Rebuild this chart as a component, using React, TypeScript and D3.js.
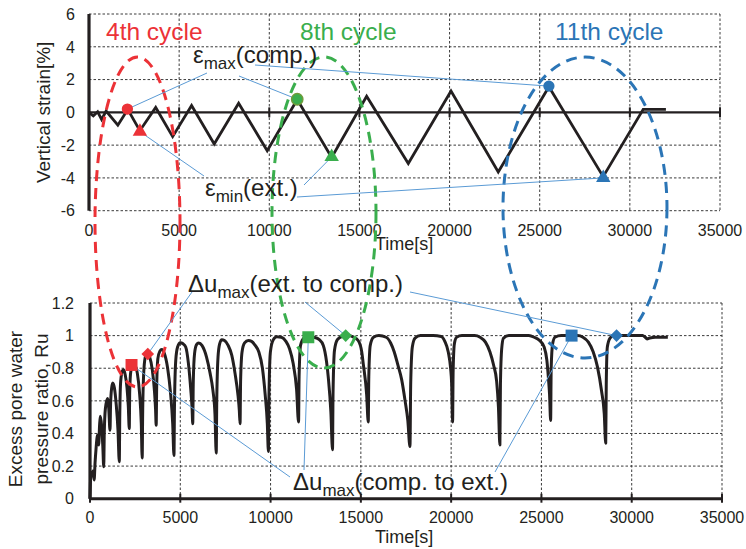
import React from 'react';
import * as d3 from 'd3';

// ---------- data ----------
const strainTime = [0, 240, 480, 700, 950, 1600, 2150, 2820, 3700, 4640, 5690, 6945, 8300, 9885, 11550, 13460, 15400, 17710, 20080, 22700, 25510, 28520, 30740, 32000];
const strainValue = [0, -0.22, 0.03, -0.43, 0.08, -0.78, 0.18, -1.12, 0.3, -1.48, 0.42, -1.93, 0.56, -2.34, 0.78, -2.75, 0.98, -3.12, 1.3, -3.64, 1.56, -3.92, 0.18, 0.18];

const ruPoints: [number, number][] = [
  [0, 0], [30, 0.12], [60, 0.16], [110, 0.14], [160, 0.17], [230, 0.115], [280, 0.22], [330, 0.3], [420, 0.39], [480, 0.33],
  [530, 0.45], [570, 0.505], [640, 0.45], [710, 0.32], [760, 0.196], [790, 0.4], [850, 0.55], [970, 0.615], [1040, 0.55], [1107, 0.42],
  [1140, 0.58], [1200, 0.68], [1260, 0.71], [1350, 0.68], [1450, 0.58], [1550, 0.42], [1622, 0.227],
  [1650, 0.52], [1700, 0.72], [1800, 0.785], [1870, 0.79], [1950, 0.76], [2050, 0.68], [2120, 0.57], [2175, 0.43],
  [2200, 0.66], [2260, 0.78], [2400, 0.82], [2500, 0.815], [2620, 0.77], [2750, 0.64], [2840, 0.46], [2890, 0.25],
  [2920, 0.55], [2990, 0.8], [3080, 0.875], [3180, 0.89], [3300, 0.87], [3450, 0.79], [3570, 0.66], [3630, 0.55], [3665, 0.45],
  [3695, 0.7], [3760, 0.86], [3870, 0.905], [3970, 0.915], [4120, 0.89], [4300, 0.8], [4450, 0.66], [4580, 0.46], [4650, 0.265],
  [4680, 0.58], [4750, 0.85], [4850, 0.93], [5000, 0.957], [5150, 0.95], [5300, 0.93], [5450, 0.83], [5580, 0.67], [5650, 0.56], [5690, 0.46],
  [5720, 0.72], [5790, 0.89], [5900, 0.945], [6020, 0.955], [6200, 0.94], [6450, 0.87], [6650, 0.77], [6800, 0.67], [6920, 0.52], [6990, 0.28],
  [7020, 0.6], [7090, 0.87], [7180, 0.95], [7300, 0.975], [7450, 0.97], [7650, 0.94], [7850, 0.88], [8030, 0.77], [8200, 0.63], [8270, 0.54], [8310, 0.46],
  [8340, 0.72], [8420, 0.9], [8560, 0.955], [8770, 0.97], [8950, 0.965], [9150, 0.94], [9350, 0.9], [9550, 0.8], [9700, 0.64], [9820, 0.46], [9880, 0.29],
  [9910, 0.62], [9990, 0.9], [10150, 0.975], [10350, 0.993], [10600, 0.99], [10850, 0.965], [11050, 0.92], [11250, 0.83], [11440, 0.67], [11550, 0.47],
  [11580, 0.75], [11660, 0.94], [11850, 0.985], [12100, 0.995], [12400, 0.99], [12700, 0.975], [12920, 0.94], [13100, 0.84], [13200, 0.74], [13340, 0.53], [13430, 0.3],
  [13460, 0.65], [13540, 0.91], [13700, 0.975], [13950, 0.995], [14300, 1.0], [14600, 0.99], [14850, 0.97], [15050, 0.9], [15130, 0.83], [15320, 0.64], [15410, 0.47],
  [15440, 0.75], [15520, 0.94], [15700, 0.99], [16000, 1.0], [16400, 0.99], [16650, 0.955], [16850, 0.9], [17050, 0.82], [17260, 0.73], [17450, 0.6], [17600, 0.48], [17720, 0.32],
  [17760, 0.7], [17850, 0.93], [18000, 0.985], [18300, 1.0], [19000, 1.0], [19450, 0.995], [19650, 0.965], [19840, 0.9], [19970, 0.8], [20030, 0.7], [20080, 0.47],
  [20110, 0.78], [20180, 0.95], [20300, 0.99], [20600, 1.0], [21300, 1.0], [21600, 0.99], [21900, 0.96], [22150, 0.9], [22350, 0.82], [22520, 0.72], [22620, 0.56], [22700, 0.33],
  [22730, 0.7], [22800, 0.92], [22900, 0.985], [23200, 1.0], [24300, 1.0], [24600, 0.99], [24900, 0.97], [25150, 0.93], [25300, 0.85], [25380, 0.75], [25450, 0.64], [25510, 0.48],
  [25540, 0.8], [25620, 0.95], [25750, 0.99], [26100, 1.0], [27000, 1.0], [27300, 0.99], [27600, 0.96], [27870, 0.9], [28100, 0.81], [28330, 0.66], [28480, 0.52], [28560, 0.34],
  [28590, 0.7], [28650, 0.93], [28800, 0.985], [29000, 1.0], [30600, 1.0], [30750, 0.99], [30850, 0.98], [31000, 0.985], [31300, 0.99], [32000, 0.99],
];

const timeTicks = [0, 5000, 10000, 15000, 20000, 25000, 30000, 35000];
const strainTicks = [-6, -4, -2, 0, 2, 4, 6];
const ruTicks = [0, 0.2, 0.4, 0.6, 0.8, 1, 1.2];

const cycleLabels = ['4th cycle', '8th cycle', '11th cycle'];
const cycleColors = ['#EC3237', '#3AAE4D', '#2B75B6'];

// markers (one per cycle)
const epsMaxTime = [2130, 11550, 25510];
const epsMaxValue = [0.2, 0.8, 1.6];
const epsMinTime = [2825, 13460, 28525];
const epsMinValue = [-1.18, -2.72, -4.0];
const duCompTime = [2300, 12090, 26670];
const duCompValue = [0.82, 0.99, 1.0];
const duExtTime = [3200, 14160, 29160];
const duExtValue = [0.887, 1.0, 1.0];

// dashed cycle ellipses (time / strain units of the upper chart)
const ellipseTime = [2690, 13035, 27511];
const ellipseStrain = [-6.69, -6.11, -5.81];
const ellipseRadiusTime = [2357, 2884, 4548];
const ellipseRadiusStrain = [10.07, 9.49, 9.18];

// ---------- layout ----------
const W = 746;
const H = 549;
const FONT = "'Liberation Sans', Arial, Helvetica, sans-serif";
const INK = '#231F20';
const LEADER = '#5B9BD5';

const xTop = d3.scaleLinear().domain([0, 35000]).range([89, 720]);
const yTop = d3.scaleLinear().domain([-6, 6]).range([210.7, 14]);
const xBot = d3.scaleLinear().domain([0, 35000]).range([90, 722]);
const yBot = d3.scaleLinear().domain([0, 1.2]).range([498.7, 303]);

const strainLine = d3
  .line<number>()
  .x((_, i) => xTop(strainTime[i]))
  .y((d) => yTop(d));

const ruLine = d3
  .line<[number, number]>()
  .x((d) => xBot(d[0]))
  .y((d) => yBot(d[1]))
  .curve(d3.curveMonotoneX);

const circleSym = d3.symbol(d3.symbolCircle, 100)();
const triSym = d3.symbol(d3.symbolTriangle, 90)();
const squareSym = d3.symbol(d3.symbolSquare, 144)();
const diamondSym = d3.symbol(d3.symbolSquare, 80)();

const epsMaxLeaders: [number, number][] = [[207, 73], [239, 76], [255, 65]];
const epsMinLeaders: [number, number][] = [[204, 176], [304, 185], [297, 197]];
const duExtLeaders: [number, number][] = [[192, 292], [305, 302], [410, 292]];
const duCompLeaders: [number, number][] = [[290, 477], [304, 470], [495, 472]];

function Sub({ x, y, main, sub, rest }: { x: number; y: number; main: string; sub: string; rest: string }) {
  return (
    <text x={x} y={y} fontFamily={FONT} fontSize={24} fill={INK}>
      {main}
      <tspan fontSize={17} dy={6}>{sub}</tspan>
      <tspan dy={-6}>{rest}</tspan>
    </text>
  );
}

export default function App() {
  const grid = { stroke: '#3a3a3a', strokeWidth: 1, strokeDasharray: '2.5,2' };
  return (
    <svg
      width={W}
      height={H}
      viewBox={`0 0 ${W} ${H}`}
      style={{ position: 'absolute', left: 0, top: 0, background: '#fff' }}
    >
      <rect x={0} y={0} width={W} height={H} fill="#fff" />

      {/* ===== upper chart ===== */}
      <g>
        {strainTicks.filter((v) => v !== 0).map((v) => (
          <line key={'hg' + v} x1={xTop(0)} x2={xTop(35000)} y1={yTop(v)} y2={yTop(v)} {...grid} />
        ))}
        {timeTicks.filter((t) => t !== 0).map((t) => (
          <line key={'vg' + t} x1={xTop(t)} x2={xTop(t)} y1={yTop(6)} y2={yTop(-6)} {...grid} />
        ))}
        <line x1={xTop(0)} x2={xTop(0)} y1={yTop(6)} y2={yTop(-6)} stroke={INK} strokeWidth={3.2} />
        <line x1={xTop(0)} x2={xTop(35000)} y1={yTop(0)} y2={yTop(0)} stroke={INK} strokeWidth={2.4} />
        {timeTicks.map((t) => (
          <line key={'tt' + t} x1={xTop(t)} x2={xTop(t)} y1={yTop(0) - 5} y2={yTop(0) + 5} stroke={INK} strokeWidth={2} />
        ))}
        {strainTicks.map((v) => (
          <text key={'yl' + v} x={75} y={yTop(v)} dy="0.36em" textAnchor="end" fontFamily={FONT} fontSize={16} fill={INK}>
            {v}
          </text>
        ))}
        {timeTicks.map((t) => (
          <text key={'xl' + t} x={xTop(t)} y={236} textAnchor="middle" fontFamily={FONT} fontSize={16} fill={INK}>
            {t}
          </text>
        ))}
        <text x={375} y={250} fontFamily={FONT} fontSize={18} fill={INK}>Time[s]</text>
        <text
          transform={`translate(50, ${yTop(0)}) rotate(-90)`}
          textAnchor="middle"
          fontFamily={FONT}
          fontSize={19}
          fill={INK}
        >
          Vertical strain[%]
        </text>
        <path d={strainLine(strainValue) || ''} fill="none" stroke={INK} strokeWidth={2.8} strokeLinejoin="miter" />
      </g>

      {/* ===== lower chart ===== */}
      <g>
        {ruTicks.filter((v) => v !== 0).map((v) => (
          <line key={'rg' + v} x1={xBot(0)} x2={xBot(35000)} y1={yBot(v)} y2={yBot(v)} {...grid} />
        ))}
        {timeTicks.filter((t) => t !== 0).map((t) => (
          <line key={'bvg' + t} x1={xBot(t)} x2={xBot(t)} y1={yBot(1.2)} y2={yBot(0)} {...grid} />
        ))}
        <line x1={xBot(0)} x2={xBot(0)} y1={yBot(1.2)} y2={yBot(0)} stroke={INK} strokeWidth={3.2} />
        <line x1={xBot(0)} x2={xBot(35000)} y1={yBot(0)} y2={yBot(0)} stroke={INK} strokeWidth={3} />
        {timeTicks.map((t) => (
          <line key={'bt' + t} x1={xBot(t)} x2={xBot(t)} y1={yBot(0) - 5} y2={yBot(0) + 4} stroke={INK} strokeWidth={2} />
        ))}
        {ruTicks.map((v) => (
          <text key={'ryl' + v} x={74} y={yBot(v)} dy="0.36em" textAnchor="end" fontFamily={FONT} fontSize={16} fill={INK}>
            {String(v)}
          </text>
        ))}
        {timeTicks.map((t) => (
          <text key={'bxl' + t} x={xBot(t)} y={523} textAnchor="middle" fontFamily={FONT} fontSize={16} fill={INK}>
            {t}
          </text>
        ))}
        <text x={375} y={543} fontFamily={FONT} fontSize={18} fill={INK}>Time[s]</text>
        <text transform={`translate(22, 409) rotate(-90)`} textAnchor="middle" fontFamily={FONT} fontSize={19} fill={INK}>
          Excess pore water
        </text>
        <text transform={`translate(48, 409) rotate(-90)`} textAnchor="middle" fontFamily={FONT} fontSize={19} fill={INK}>
          pressure ratio, Ru
        </text>
        <path d={ruLine(ruPoints) || ''} fill="none" stroke={INK} strokeWidth={3} strokeLinejoin="round" />
      </g>

      {/* ===== cycle ellipses ===== */}
      {cycleColors.map((c, i) => (
        <ellipse
          key={'el' + i}
          cx={xTop(ellipseTime[i])}
          cy={yTop(ellipseStrain[i])}
          rx={xTop(ellipseRadiusTime[i]) - xTop(0)}
          ry={yTop(0) - yTop(ellipseRadiusStrain[i])}
          fill="none"
          stroke={c}
          strokeWidth={3}
          strokeDasharray="11,7"
        />
      ))}

      {/* ===== leader lines ===== */}
      {epsMaxLeaders.map((p, i) => (
        <line key={'l1' + i} x1={p[0]} y1={p[1]} x2={xTop(epsMaxTime[i])} y2={yTop(epsMaxValue[i])} stroke={LEADER} strokeWidth={1} />
      ))}
      {epsMinLeaders.map((p, i) => (
        <line key={'l2' + i} x1={p[0]} y1={p[1]} x2={xTop(epsMinTime[i])} y2={yTop(epsMinValue[i])} stroke={LEADER} strokeWidth={1} />
      ))}
      {duExtLeaders.map((p, i) => (
        <line key={'l3' + i} x1={p[0]} y1={p[1]} x2={xBot(duExtTime[i])} y2={yBot(duExtValue[i])} stroke={LEADER} strokeWidth={1} />
      ))}
      {duCompLeaders.map((p, i) => (
        <line key={'l4' + i} x1={p[0]} y1={p[1]} x2={xBot(duCompTime[i])} y2={yBot(duCompValue[i])} stroke={LEADER} strokeWidth={1} />
      ))}

      {/* ===== markers ===== */}
      {cycleColors.map((c, i) => (
        <g key={'mk' + i}>
          <path
            d={circleSym || ''}
            transform={`translate(${xTop(epsMaxTime[i])},${yTop(epsMaxValue[i])})`}
            fill={c}
            stroke={i === 1 ? '#6E9B3A' : c}
            strokeWidth={i === 1 ? 1.5 : 0}
          />
          <path d={triSym || ''} transform={`translate(${xTop(epsMinTime[i])},${yTop(epsMinValue[i])})`} fill={c} />
          <path d={squareSym || ''} transform={`translate(${xBot(duCompTime[i])},${yBot(duCompValue[i])})`} fill={c} />
          <path
            d={diamondSym || ''}
            transform={`translate(${xBot(duExtTime[i])},${yBot(duExtValue[i])}) rotate(45)`}
            fill={c}
          />
        </g>
      ))}

      {/* ===== labels ===== */}
      {cycleLabels.map((s, i) => (
        <text key={'cl' + i} x={[106, 300, 555][i]} y={39.5} fontFamily={FONT} fontSize={24.5} fill={cycleColors[i]}>
          {s}
        </text>
      ))}
      <Sub x={193} y={63} main="ε" sub="max" rest="(comp.)" />
      <Sub x={205} y={195.5} main="ε" sub="min" rest="(ext.)" />
      <Sub x={188} y={292} main="Δu" sub="max" rest="(ext. to comp.)" />
      <Sub x={293} y={490} main="Δu" sub="max" rest="(comp. to ext.)" />
    </svg>
  );
}
